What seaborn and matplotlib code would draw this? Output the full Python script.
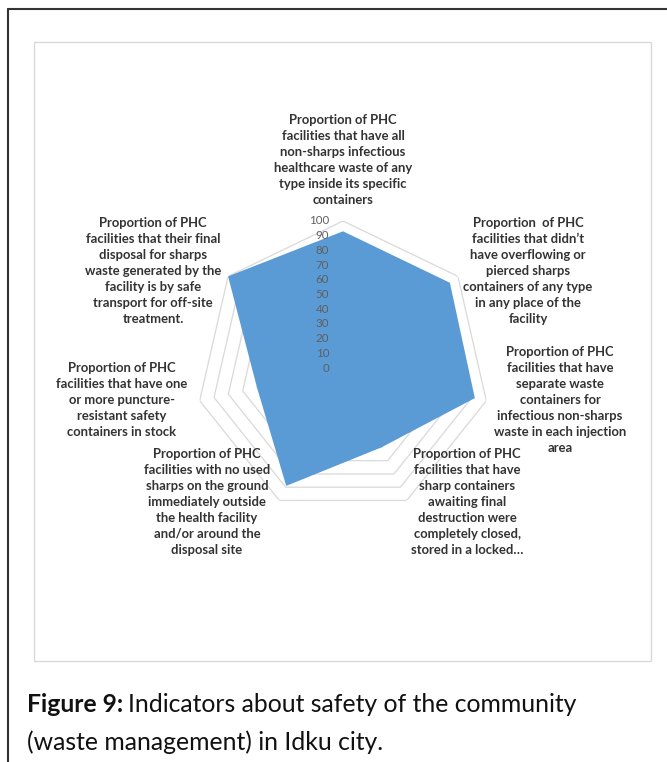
import numpy as np
import matplotlib
matplotlib.use("Agg")
import matplotlib.pyplot as plt
import seaborn as sns
from matplotlib.lines import Line2D
from matplotlib.patches import Rectangle

categories = [
    "Proportion of PHC\nfacilities that have all\nnon-sharps infectious\nhealthcare waste of any\ntype inside its specific\ncontainers",
    "Proportion  of PHC\nfacilities that didn\u2019t\nhave overflowing or\npierced sharps\ncontainers of any type\nin any place of the\nfacility",
    "Proportion of PHC\nfacilities that have\nseparate waste\ncontainers for\ninfectious non-sharps\nwaste in each injection\narea",
    "Proportion of PHC\nfacilities that have\nsharp containers\nawaiting final\ndestruction were\ncompletely closed,\nstored in a locked\u2026",
    "Proportion of PHC\nfacilities with no used\nsharps on the ground\nimmediately outside\nthe health facility\nand/or around the\ndisposal site",
    "Proportion of PHC\nfacilities that have one\nor more puncture-\nresistant safety\ncontainers in stock",
    "Proportion of PHC\nfacilities that their final\ndisposal for sharps\nwaste generated by the\nfacility is by safe\ntransport for off-site\ntreatment.",
]
values = [93, 93, 92, 60, 89, 60, 100]
ring_ticks = [0, 10, 20, 30, 40, 50, 60, 70, 80, 90, 100]

sns.set_theme(style="white")
plt.rcParams["font.family"] = ["Lato", "DejaVu Sans"]

W, H = 667, 762
fig = plt.figure(figsize=(W / 100, H / 100), dpi=100)
fig.patch.set_facecolor("white")

cx, cy, R = 343, 368, 147
ax = fig.add_axes([(cx - R) / W, 1 - (cy + R) / H, 2 * R / W, 2 * R / H], projection="polar")
ax.set_theta_zero_location("N")
ax.set_theta_direction(-1)
ax.set_ylim(0, 100)
ax.grid(False)
ax.spines["polar"].set_visible(False)
ax.set_xticks([])
ax.set_yticks([])
ax.patch.set_alpha(0)

n = len(values)
angles = np.linspace(0, 2 * np.pi, n, endpoint=False)
ang_c = np.concatenate([angles, angles[:1]])

for r in ring_ticks[1:]:
    ax.plot(ang_c, [r] * (n + 1), color="#d9d9d9", lw=0.9, zorder=1)

vals_c = values + values[:1]
ax.fill(ang_c, vals_c, color="#5B9BD5", zorder=2, lw=0)

for r in ring_ticks:
    ax.annotate(str(r), xy=(0, r), xytext=(-10, 0), textcoords="offset points",
                ha="right", va="center", fontsize=8.3, color="#5f5f5f", zorder=3)

# category labels (pixel centres of text blocks)
label_pos = [(343, 160), (528, 271), (560, 400), (467, 502), (207, 502), (122, 400), (153, 271)]
for txt, (px, py) in zip(categories, label_pos):
    fig.text(px / W, 1 - py / H, txt, ha="center", va="center", fontsize=9.4,
             fontweight="bold", color="#333333", linespacing=1.4)

# chart area box
fig.add_artist(Rectangle((34 / W, 1 - 661 / H), (651 - 34) / W, (661 - 42) / H,
                         transform=fig.transFigure, fill=False, edgecolor="#d9d9d9", lw=1))
# outer frame lines
fig.add_artist(Line2D([8 / W, 1], [1 - 9 / H, 1 - 9 / H], transform=fig.transFigure, color="#333333", lw=1.5))
fig.add_artist(Line2D([8 / W, 8 / W], [0, 1 - 9 / H], transform=fig.transFigure, color="#333333", lw=1.5))

# caption
cap_fs = 17.8
t1 = fig.text(27 / W, 1 - 705 / H, "Figure 9:", ha="left", va="center", fontsize=cap_fs,
              fontweight="bold", color="#111111")
fig.canvas.draw()
bb = t1.get_window_extent()
fig.text((bb.x1 + 5) / W, 1 - 705 / H, "Indicators about safety of the community", ha="left",
         va="center", fontsize=cap_fs, color="#111111")
fig.text(27 / W, 1 - 742 / H, "(waste management) in Idku city.", ha="left", va="center",
         fontsize=cap_fs, color="#111111")

fig.savefig("out.png", dpi=100, facecolor="white")
